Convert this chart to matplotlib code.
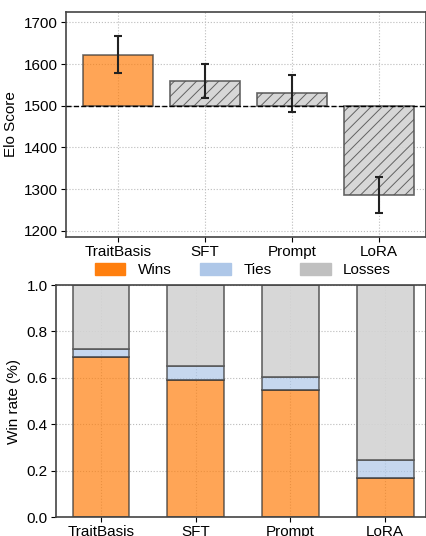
import numpy as np
import matplotlib.pyplot as plt
from matplotlib.patches import Patch

plt.rcParams['font.family'] = ['Liberation Sans', 'DejaVu Sans']
plt.rcParams['font.size'] = 11
plt.rcParams['hatch.color'] = '#555555'
plt.rcParams['hatch.linewidth'] = 0.7
plt.rcParams['xtick.major.pad'] = 2.5
plt.rcParams['ytick.major.pad'] = 2.5

methods = ['TraitBasis', 'SFT', 'Prompt', 'LoRA']
elo = [1623, 1560, 1530, 1286]
elo_err = [44, 41, 44, 44]
wins = [0.69, 0.589, 0.547, 0.167]
ties = [0.036, 0.064, 0.056, 0.077]
losses = [1 - w - t for w, t in zip(wins, ties)]

orange = '#ff7f0e'
blue = '#aec7e8'
grey = '#c0c0c0'

fig = plt.figure(figsize=(4.27, 5.36), dpi=100)
ax1 = fig.add_axes([0.1546, 0.5578, 0.843, 0.4198])
ax2 = fig.add_axes([0.131, 0.0354, 0.8665, 0.4328])

x = np.arange(len(methods))

# top: elo relative to 1500
for i in range(len(methods)):
    if i == 0:
        ax1.bar(x[i], elo[i] - 1500, bottom=1500, width=0.8, color=orange, alpha=0.7,
                edgecolor='#333333', linewidth=1.2, zorder=2)
    else:
        ax1.bar(x[i], elo[i] - 1500, bottom=1500, width=0.8, color='lightgray',
                hatch='///', edgecolor='#555555', linewidth=1.2, alpha=0.9, zorder=2)
ax1.errorbar(x, elo, yerr=elo_err, fmt='none', ecolor='#222222', elinewidth=1.5,
             capsize=3, capthick=1.5, zorder=3)
ax1.axhline(1500, color='black', linestyle='--', linewidth=1, zorder=3)
ax1.set_ylim(1185, 1725)
ax1.set_xlim(-0.6, 3.54)
ax1.set_yticks([1200, 1300, 1400, 1500, 1600, 1700])
ax1.set_xticks(x)
ax1.set_xticklabels(methods)
ax1.set_ylabel('Elo Score')
ax1.grid(True, linestyle=':', color='#bbbbbb', linewidth=0.8, zorder=0)
ax1.set_axisbelow(True)

# bottom: stacked win rates
ax2.bar(x, wins, width=0.6, color=orange, alpha=0.7, edgecolor='#333333', linewidth=1.2, zorder=2)
ax2.bar(x, ties, width=0.6, bottom=wins, color=blue, alpha=0.7, edgecolor='#333333',
        linewidth=1.2, zorder=2)
ax2.bar(x, losses, width=0.6, bottom=np.array(wins) + np.array(ties), color='lightgray',
        alpha=0.9, edgecolor='#555555', linewidth=1.2, zorder=2)
ax2.set_ylim(0, 1)
ax2.set_xlim(-0.475, 3.43)
ax2.set_yticks([0.0, 0.2, 0.4, 0.6, 0.8, 1.0])
ax2.set_xticks(x)
ax2.set_xticklabels(methods)
ax2.set_ylabel('Win rate (%)')
ax2.grid(True, linestyle=':', color='#bbbbbb', linewidth=0.8, zorder=0)
ax2.set_axisbelow(True)

for ax in (ax1, ax2):
    for s in ax.spines.values():
        s.set_color('#444444')
        s.set_linewidth(1.2)

handles = [Patch(color=orange), Patch(color=blue), Patch(color=grey)]
fig.legend(handles, ['Wins', 'Ties', 'Losses'], loc='center', bbox_to_anchor=(0.569, 0.496),
           ncol=3, frameon=False, handlelength=2.0, handleheight=0.8,
           handletextpad=0.8, columnspacing=1.9)

fig.savefig('out.png', dpi=100)
